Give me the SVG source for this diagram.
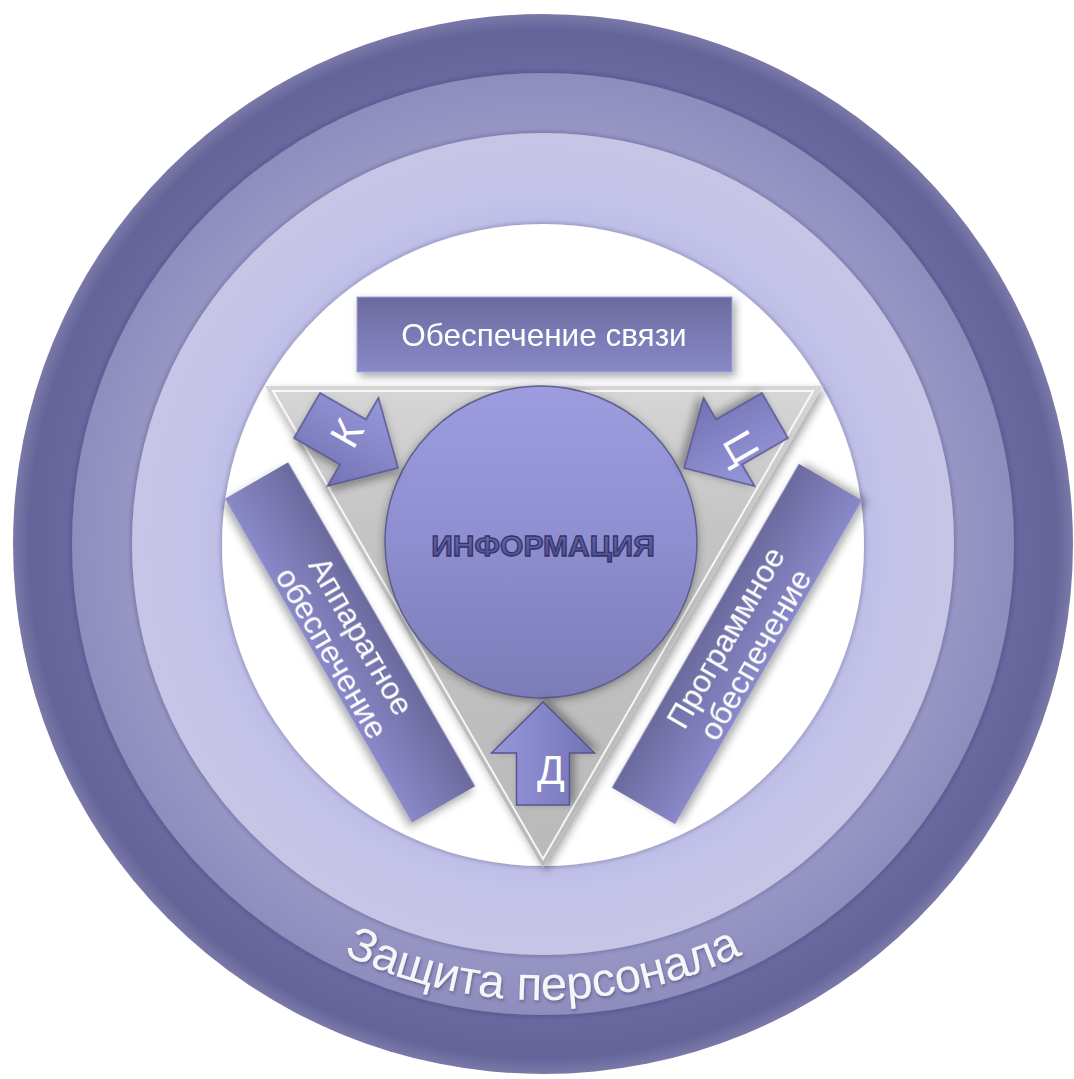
<svg xmlns="http://www.w3.org/2000/svg" width="1074" height="1079" viewBox="0 0 1074 1079">
<defs>
<style>
.lbl{font-family:"Liberation Sans",Arial,sans-serif;fill:#ffffff;}
.arrow{stroke:#55558e;stroke-width:1.5;fill:url(#gArrow);}
.letter{font-family:"Liberation Sans",Arial,sans-serif;font-size:41px;fill:#ffffff;text-anchor:middle;}
</style>
<filter id="ringSh" x="-10%" y="-10%" width="120%" height="120%">
<feDropShadow dx="0" dy="0" stdDeviation="2.5" flood-color="#20204a" flood-opacity="0.45"/>
</filter>
<filter id="boxSh" x="-20%" y="-20%" width="140%" height="140%">
<feDropShadow dx="3" dy="4" stdDeviation="4" flood-color="#000" flood-opacity="0.35"/>
</filter>
<filter id="circSh" x="-20%" y="-20%" width="140%" height="140%">
<feDropShadow dx="0" dy="2" stdDeviation="4" flood-color="#333" flood-opacity="0.5"/>
</filter>
<filter id="txtSh" x="-10%" y="-10%" width="120%" height="130%">
<feDropShadow dx="1" dy="2" stdDeviation="1.5" flood-color="#30305a" flood-opacity="0.5"/>
</filter>
<radialGradient id="gR1" cx="0.5" cy="0.5" r="0.5">
<stop offset="0.85" stop-color="#6b6aa2"/>
<stop offset="0.97" stop-color="#65649a"/>
<stop offset="1" stop-color="#7a79a8"/>
</radialGradient>
<radialGradient id="gR2" cx="0.5" cy="0.5" r="0.5">
<stop offset="0.85" stop-color="#9897c6"/>
<stop offset="1" stop-color="#8e8dbd"/>
</radialGradient>
<radialGradient id="gR3" cx="0.5" cy="0.5" r="0.5">
<stop offset="0.75" stop-color="#bbbae6"/>
<stop offset="0.85" stop-color="#c4c3e8"/>
<stop offset="1" stop-color="#c6c5e6"/>
</radialGradient>
<linearGradient id="gTri" x1="0" y1="0" x2="0" y2="1">
<stop offset="0" stop-color="#d6d6d6"/>
<stop offset="0.3" stop-color="#c4c4c4"/>
<stop offset="1" stop-color="#b9b9b9"/>
</linearGradient>
<linearGradient id="gCirc" x1="0" y1="0" x2="0" y2="1">
<stop offset="0" stop-color="#9c9cde"/>
<stop offset="0.5" stop-color="#8e8ed0"/>
<stop offset="1" stop-color="#7c7cb8"/>
</linearGradient>
<linearGradient id="gBox" x1="0" y1="0" x2="0" y2="1">
<stop offset="0" stop-color="#6b6a9e"/>
<stop offset="1" stop-color="#8a89c9"/>
</linearGradient>
<linearGradient id="gArrow" x1="0" y1="0" x2="0" y2="1">
<stop offset="0" stop-color="#9797dc"/>
<stop offset="0.5" stop-color="#8585c8"/>
<stop offset="1" stop-color="#7272b4"/>
</linearGradient>
<linearGradient id="gInfoTxt" x1="0" y1="0" x2="0" y2="1">
<stop offset="0" stop-color="#6a6aae"/>
<stop offset="1" stop-color="#4a4a8a"/>
</linearGradient>
</defs>

<g id="rings">
<circle cx="543" cy="544" r="530" fill="url(#gR1)"/>
<circle cx="543" cy="544" r="471" fill="url(#gR2)" filter="url(#ringSh)"/>
<circle cx="543" cy="544" r="411" fill="url(#gR3)" filter="url(#ringSh)"/>
<circle cx="543" cy="545" r="321" fill="#ffffff" filter="url(#ringSh)"/>
<path id="arcText" d="M 87 544 A 456 456 0 0 0 999 544" fill="none"/>
<text class="lbl" font-size="47" fill-opacity="0.92" filter="url(#txtSh)"><textPath href="#arcText" startOffset="50%" text-anchor="middle">Защита персонала</textPath></text>
</g>

<g id="triangle">
<polygon points="265,386 823,386 543,868" fill="url(#gTri)" filter="url(#boxSh)"/>
<polygon points="273,391 813,391 543,859" fill="none" stroke="#ffffff" stroke-width="2" stroke-opacity="0.85"/>
</g>

<g id="top-box" filter="url(#boxSh)">
<rect x="357" y="297" width="375" height="75" fill="url(#gBox)" stroke="#a3a3da" stroke-width="1"/>
<text class="lbl" x="544" y="346" font-size="31.5" text-anchor="middle">Обеспечение связи</text>
</g>

<g id="left-box" transform="translate(350,642.5) rotate(60)" filter="url(#boxSh)">
<rect x="-187" y="-36.5" width="374" height="73" fill="url(#gBox)"/>
<text class="lbl" font-size="32" text-anchor="middle"><tspan x="0" y="-2">Аппаратное</tspan><tspan x="0" y="32">обеспечение</tspan></text>
</g>

<g id="right-box" transform="translate(737,644) rotate(-60)" filter="url(#boxSh)">
<rect x="-187" y="-36.5" width="374" height="73" fill="url(#gBox)"/>
<text class="lbl" font-size="32" text-anchor="middle"><tspan x="0" y="-2">Программное</tspan><tspan x="0" y="32">обеспечение</tspan></text>
</g>

<g id="info">
<circle cx="541" cy="542" r="156" fill="url(#gCirc)" stroke="#5e5e8e" stroke-width="1.5" filter="url(#circSh)"/>
<text x="543" y="556" font-family="'Liberation Sans',Arial,sans-serif" font-weight="bold" font-size="30" text-anchor="middle" fill="url(#gInfoTxt)" stroke="#33336a" stroke-width="1.3">ИНФОРМАЦИЯ</text>
</g>

<g id="connectors">
<g id="arrow-k">
<polygon class="arrow" transform="translate(398,468) rotate(30)" points="-105,-26 -52,-26 -52,-51 0,0 -52,51 -52,26 -105,26" filter="url(#boxSh)"/>
<text class="letter" transform="translate(346,433) rotate(-60)" y="15">К</text>
</g>
<g id="arrow-c">
<polygon class="arrow" transform="translate(684,468) rotate(150)" points="-105,-26 -52,-26 -52,-51 0,0 -52,51 -52,26 -105,26" filter="url(#boxSh)"/>
<text class="letter" transform="translate(742,447) rotate(60)" y="15">Ц</text>
</g>
<g id="arrow-d">
<polygon class="arrow" transform="translate(543,702) rotate(-90)" points="-103,-26.5 -51,-26.5 -51,-51.5 0,0 -51,51.5 -51,26.5 -103,26.5" filter="url(#boxSh)"/>
<text class="letter" x="551" y="784">Д</text>
</g>
</g>
</svg>
